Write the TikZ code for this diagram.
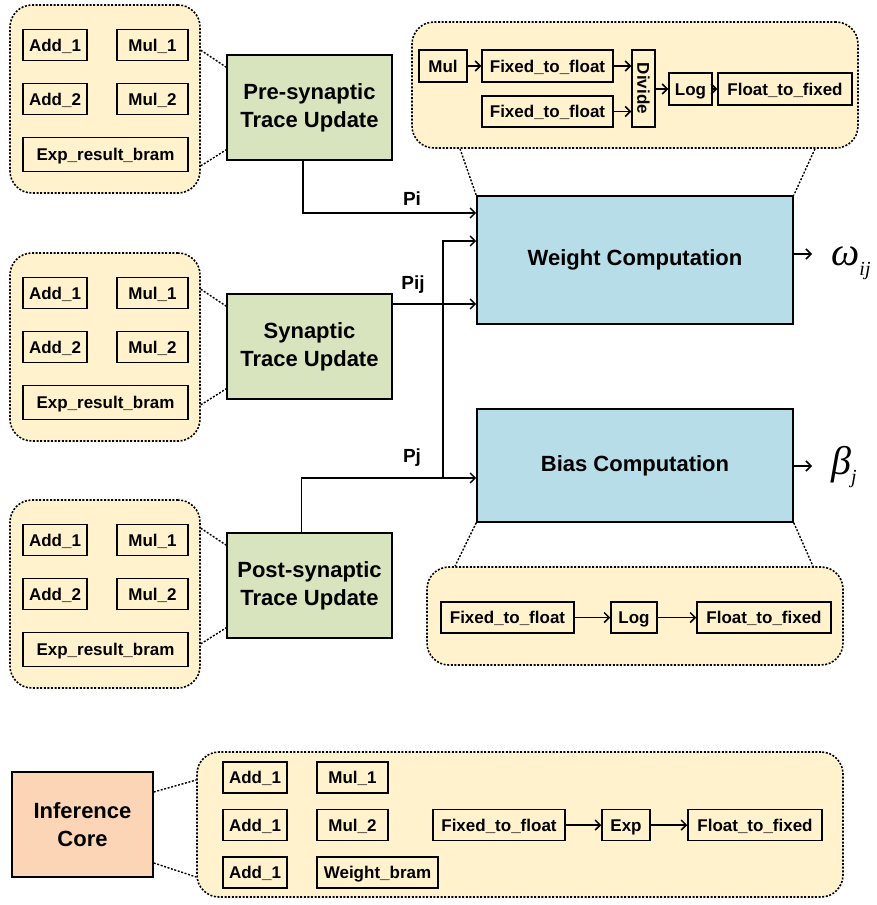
\documentclass[tikz,border=0pt]{standalone}
\usepackage{fontspec}
\setmainfont{Liberation Sans}
\newfontfamily\greekserif{Liberation Serif}
\usetikzlibrary{arrows.meta,calc}

\definecolor{groupfill}{HTML}{FFF2CC}
\definecolor{tracefill}{HTML}{D7E4BD}
\definecolor{compfill}{HTML}{B7DEE8}
\definecolor{corefill}{HTML}{FBD5B5}

\tikzset{
  unit/.style={draw=black, line width=1.5pt, fill=groupfill, inner sep=0pt,
    minimum height=31pt, text height=15pt, text depth=2.8pt,
    font=\fontsize{17}{20}\selectfont\bfseries},
  group/.style={draw=black, line width=1.6pt, dash pattern=on 2pt off 1.6pt,
    rounded corners=22pt, fill=groupfill, inner sep=0pt},
  block/.style={draw=black, line width=1.6pt, inner sep=0pt, align=center,
    font=\fontsize{22}{28}\selectfont\bfseries},
  zoomline/.style={line width=1.4pt, dash pattern=on 2pt off 1.6pt},
  flow/.style={line width=1.5pt, -{Straight Barb[length=5pt,width=10pt]}},
  sig/.style={inner sep=0pt, font=\fontsize{19}{22}\selectfont\bfseries},
  greek/.style={inner sep=0pt, anchor=base west,
    font=\greekserif\itshape\fontsize{40}{40}\selectfont}
}

\begin{document}
\begin{tikzpicture}[x=1pt,y=-1pt]
\useasboundingbox (0,0) rectangle (877,905);

% ---- trace update units with their resource groups ----
\foreach \n/\top/\cy/\lab in {
    1/5/107.5/{Pre-synaptic\\Trace Update},
    2/253/346.5/{Synaptic\\Trace Update},
    3/500/585.5/{Post-synaptic\\Trace Update}} {
  \node[group, minimum width=190pt, minimum height=188pt] (g\n) at (105,\top+94) {};
  \node[unit, minimum width=64pt] (a1\n) at (55,\top+40) {Add\_1};
  \node[unit, minimum width=71pt] (m1\n) at (152.5,\top+40) {Mul\_1};
  \node[unit, minimum width=64pt] (a2\n) at (55,\top+94) {Add\_2};
  \node[unit, minimum width=71pt] (m2\n) at (152.5,\top+94) {Mul\_2};
  \node[unit, minimum width=165pt, minimum height=34pt] (eb\n) at (105.5,\top+149.5) {Exp\_result\_bram};
  \node[block, fill=tracefill, minimum width=165pt, minimum height=105pt] (tr\n) at (309.5,\cy) {\lab};
  \draw[zoomline] ([yshift=4pt]g\n.east |- tr\n.north) -- ([yshift=-13pt]tr\n.north west);
  \draw[zoomline] ([yshift=-5pt]g\n.east |- tr\n.south) -- ([yshift=11pt]tr\n.south west);
}

% ---- weight computation ----
\node[block, fill=compfill, minimum width=316pt, minimum height=128pt] (wc) at (635,260) {Weight Computation};
\node[group, minimum width=446pt, minimum height=126pt] (gw) at (635,85) {};
\node[unit, minimum width=48pt, minimum height=32pt] (mul) at (443,66) {Mul};
\node[unit, minimum width=131pt, minimum height=32pt] (ftfa) at (547.5,66) {Fixed\_to\_float};
\node[unit, minimum width=131pt] (ftfb) at (547.5,111.5) {Fixed\_to\_float};
\node[unit, minimum width=23pt, minimum height=77pt, text height=, text depth=] (div) at (643.5,88.5) {\rotatebox{-90}{Divide}};
\node[unit, minimum width=43pt, minimum height=32pt] (wlog) at (690.5,89) {Log};
\node[unit, minimum width=134pt, minimum height=32pt] (wftx) at (785,89) {Float\_to\_fixed};
\draw[flow] (mul) -- (ftfa);
\draw[flow] (ftfa.east) -- (div.west |- ftfa.east);
\draw[flow] (ftfb.east) -- (div.west |- ftfb.east);
\draw[flow] (div.east |- wlog.west) -- (wlog.west);
\draw[flow] (wlog) -- (wftx);
\draw[zoomline] ([xshift=-175pt]gw.south) -- (wc.north west);
\draw[zoomline] ([xshift=180pt]gw.south) -- (wc.north east);

% ---- bias computation ----
\node[block, fill=compfill, minimum width=316pt, minimum height=113pt] (bc) at (635,465.5) {Bias Computation};
\node[group, minimum width=416pt, minimum height=98pt] (gb) at (635,616) {};
\node[unit, minimum width=133pt] (bftf) at (507.5,617.5) {Fixed\_to\_float};
\node[unit, minimum width=46pt] (blog) at (634,617.5) {Log};
\node[unit, minimum width=134pt] (bftx) at (764,617.5) {Float\_to\_fixed};
\draw[flow] (bftf) -- (blog);
\draw[flow] (blog) -- (bftx);
\draw[zoomline] (bc.south west) -- ([xshift=-180pt]gb.north);
\draw[zoomline] (bc.south east) -- ([xshift=178pt]gb.north);

% ---- trace signals ----
\coordinate (split) at (443,478);
\draw[flow] ([xshift=-6.5pt]tr1.south) |- (wc.west |- 0,213);
\draw[flow] (tr2.east |- 0,304) -- (wc.west |- 0,304);
\draw[flow] ([xshift=-8pt]tr3.north) |- (bc.west |- 0,478);
\draw[flow] (split) |- (wc.west |- 0,241);
\node[sig] (lpi) at (412,199) {Pi};
\node[sig] (lpij) at (413,285) {Pij};
\node[sig] (lpj) at (412,458) {Pj};

% ---- outputs ----
\node[greek] (omega) at (831,265) {ω\raisebox{-10pt}{\fontsize{20}{20}\selectfont ij}};
\node[greek] (beta) at (831,474) {β\raisebox{-9pt}{\fontsize{20}{20}\selectfont j}};
\draw[flow, shorten >=19pt] (wc.east |- 0,254) -- (omega.west |- 0,254);
\draw[flow, shorten >=19pt] (bc.east |- 0,466) -- (beta.west |- 0,466);

% ---- inference core ----
\node[block, fill=corefill, minimum width=141pt, minimum height=105pt] (ic) at (82.5,824.5) {Inference\\Core};
\node[group, minimum width=646pt, minimum height=145pt] (gi) at (520,824.5) {};
\node[unit, minimum width=64pt] (ia1) at (255,777.5) {Add\_1};
\node[unit, minimum width=71pt] (im1) at (352.5,777.5) {Mul\_1};
\node[unit, minimum width=64pt] (ia2) at (255,825) {Add\_1};
\node[unit, minimum width=71pt] (im2) at (352.5,825) {Mul\_2};
\node[unit, minimum width=64pt] (ia3) at (255,872.5) {Add\_1};
\node[unit, minimum width=121pt] (iwb) at (377.5,872.5) {Weight\_bram};
\node[unit, minimum width=132pt] (iftf) at (499,825) {Fixed\_to\_float};
\node[unit, minimum width=48pt] (iexp) at (626,825) {Exp};
\node[unit, minimum width=134pt] (iftx) at (755,825) {Float\_to\_fixed};
\draw[flow] (iftf) -- (iexp);
\draw[flow] (iexp) -- (iftx);
\draw[zoomline] (ic.east |- 0,792) -- (gi.west |- 0,780);
\draw[zoomline] (ic.east |- 0,863) -- (gi.west |- 0,877);
\end{tikzpicture}
\end{document}
